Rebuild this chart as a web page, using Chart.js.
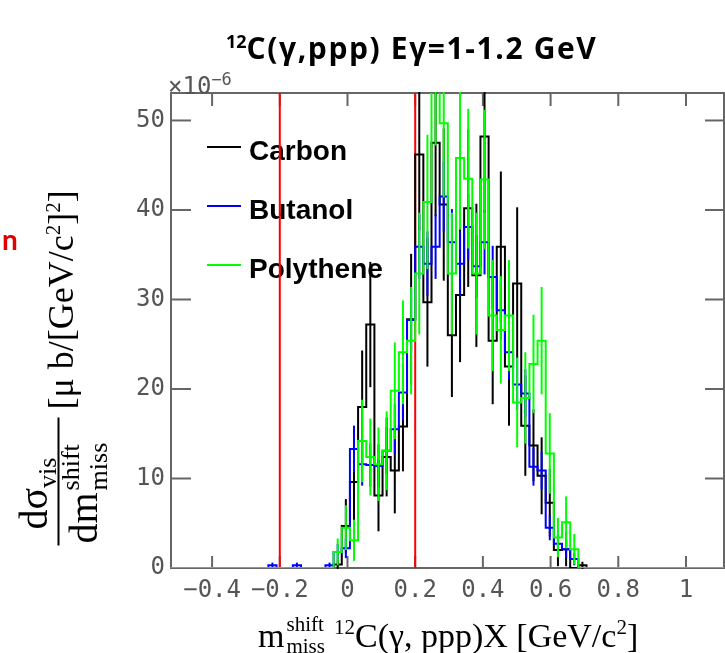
<!DOCTYPE html>
<html><head><meta charset="utf-8">
<script src="https://cdn.jsdelivr.net/npm/chart.js@4.4.1/dist/chart.umd.min.js"></script>
<style>
html,body{margin:0;padding:0;background:#fff;}
#wrap{position:relative;width:725px;height:653px;overflow:hidden;background:#fff;}
#c{position:absolute;left:0;top:0;}
.t{position:absolute;white-space:nowrap;line-height:1;}
#title{left:226px;top:27px;font:bold 30px "Open Sans",sans-serif;color:#000;letter-spacing:1.6px;}
#title sup{font-size:18px;vertical-align:0;position:relative;top:-11px;letter-spacing:0;}
#redn{left:2px;top:222px;font:bold 28px Lato,sans-serif;color:#e00000;}
#expo{left:168px;top:72px;font:24px "DejaVu Sans Mono",monospace;color:#555;}
#expo sup{font-size:17px;vertical-align:0;position:relative;top:-9px;}
#xtitle{left:258px;top:620px;font:34px "Liberation Serif",serif;color:#000;line-height:32px;}
.stack{display:inline-block;position:relative;width:41px;height:0;}
.stack span{position:absolute;left:2px;font-size:21px;line-height:20px;}
.stack .sp{top:-33px;}
.stack .sb{top:-11px;}
.sm{font-size:21px;position:relative;top:-13px;}
#ytitle{position:absolute;left:-117.5px;top:317.5px;width:360px;height:95px;transform:rotate(-90deg);font-family:"Liberation Serif",serif;color:#000;}
#ytitle .p{position:absolute;white-space:nowrap;line-height:40px;font-size:40px;}
#ytitle .sub{font-size:26px;position:relative;top:9px;}
#ytitle .u{font-size:36px;line-height:36px;}
#ytitle .bar{position:absolute;left:0;width:128px;top:42px;height:2px;background:#000;}
#ytitle .stack2{display:inline-block;position:relative;width:62px;height:0;}
#ytitle .stack2 span{position:absolute;left:2px;font-size:26px;line-height:24px;}
</style></head>
<body><div id="wrap">
<canvas id="c" width="725" height="653"></canvas>
<div class="t" id="title"><sup>12</sup>C(γ,ppp) Eγ=1-1.2 GeV</div>
<div class="t" id="redn">n</div>
<div class="t" id="expo">×10<sup>−6</sup></div>
<div class="t" id="xtitle">m<span class="stack"><span class="sp">shift</span><span class="sb">miss</span></span> <span class="sm">12</span>C(γ, ppp)X [GeV/c<span class="sm">2</span>]</div>
<div id="ytitle">
  <div class="p" style="left:16px;top:-2px;">dσ<span class="sub">vis</span></div>
  <div class="bar"></div>
  <div class="p" style="left:2px;top:48px;">dm<span class="stack2"><span style="top:-38px">shift</span><span style="top:-10px">miss</span></span></div>
  <div class="p u" style="left:136px;top:27px;">[μ b/[GeV/c<span class="sm">2</span>]<span class="sm">2</span>]</div>
</div>
</div>
<script>
// ---- data ----
const binWidth = 0.0241;          // histogram bin width (GeV/c^2)
const firstEdge = -0.2338;        // low edge of first listed bin
const carbon = [0,0,0,0,0,0,0,0,0.4,4.7,9.6,18.0,27.2,8.1,12.4,10.9,15.8,27.8,46.2,29.7,47.5,40.6,26.0,30.5,40.2,32.7,48.2,25.4,35.9,22.5,31.8,15.9,13.7,10.3,7.3,2.0,2.1,0,0.3];
const carbonErr = [0,0,0,0,0,0,0,0,0.5,3.0,4.3,6.3,7.0,4.0,4.4,4.8,5.0,7.3,8.5,7.2,8.2,8.5,6.9,7.5,8.8,8.0,8.5,7.1,8.4,6.6,8.5,5.6,4.0,4.3,3.8,1.8,1.9,0,0.4];
const butanol = [0.3,0,0,0.3,0,0,0,0.3,1.8,2.2,13.3,11.6,11.5,11.4,13.1,15.5,19.6,27.7,35.9,34.0,35.9,41.5,36.4,34.0,38.1,33.7,36.4,32.5,28.8,24.1,20.5,19.5,11.3,10.9,4.5,2.7,2.1,1.0,0];
const butanolErr = [0.3,0,0,0.3,0,0,0,0.3,0.9,1.1,2.6,2.4,2.4,2.4,2.6,2.8,3.1,3.4,3.6,3.6,3.6,3.9,3.7,3.6,3.7,3.5,3.6,3.5,3.3,3.0,2.8,2.7,2.1,2.1,1.4,1.1,1.0,0.7,0];
const polythene = [0,0,0,0,0,0,0,0,1.8,4.5,3.1,14.2,12.4,11.6,13.1,19.8,24.1,25.4,32.9,40.9,56.0,49.7,32.9,45.8,43.5,32.9,43.4,28.2,26.6,28.2,18.5,19.0,22.8,25.4,12.8,3.4,5.1,2.1,0];
const polytheneErr = [0,0,0,0,0,0,0,0,1.5,2.5,2.3,4.6,4.3,4.1,4.4,5.4,5.8,6.0,6.8,7.5,8.8,8.3,6.8,8.0,7.8,6.8,7.8,6.2,6.0,6.2,5.0,5.1,5.5,6.0,4.5,2.2,2.9,1.7,0];
const seriesNames = ['Carbon','Butanol','Polythene'];
const cutLines = [-0.2, 0.2];
const xTickValues = [-0.4,-0.2,0,0.2,0.4,0.6,0.8,1];
const xTickLabels = ['−0.4','−0.2','0','0.2','0.4','0.6','0.8','1'];
const yTickValues = [0,10,20,30,40,50];
const yTickLabels = ['0','10','20','30','40','50'];
const X_MIN = -0.5214, X_MAX = 1.1123, Y_MAX = 53.07;

// ---- build ----
function stepPoints(vals){
  const pts=[{x:X_MIN,y:0}];
  vals.forEach((v,i)=>pts.push({x:firstEdge+i*binWidth,y:v}));
  pts.push({x:firstEdge+vals.length*binWidth,y:0});
  pts.push({x:X_MAX,y:0});
  return pts;
}
const colors=['#000000','#0000ff','#00ff00'];
const vals=[carbon,butanol,polythene], errs=[carbonErr,butanolErr,polytheneErr];
const datasets = vals.map((v,i)=>({label:seriesNames[i],data:stepPoints(v),stepped:true,borderColor:colors[i],borderWidth:2,pointRadius:0,fill:false,order:3-i,vals:v,errs:errs[i]}));

function line(ctx,x1,y1,x2,y2){ctx.beginPath();ctx.moveTo(x1,y1);ctx.lineTo(x2,y2);ctx.stroke();}

const rootStyle = {
  id:'rootStyle',
  beforeDatasetsDraw(chart){
    const {ctx,chartArea:a,scales:{x,y}}=chart;
    ctx.save();
    // legend
    const ly=[147,206,265], lb=[160,219,278];
    ctx.lineWidth=2;
    seriesNames.forEach((n,i)=>{
      ctx.strokeStyle=colors[i]; line(ctx,a.left+36,ly[i],a.left+70,ly[i]);
      ctx.fillStyle='#000'; ctx.font='bold 28px "Liberation Sans", Arial, sans-serif';
      ctx.textBaseline='alphabetic'; ctx.textAlign='left';
      ctx.fillText(n,a.left+78,lb[i]);
    });
    // frame
    ctx.strokeStyle='#666'; ctx.lineWidth=2;
    ctx.strokeRect(a.left,a.top,a.right-a.left,a.bottom-a.top);
    xTickValues.forEach(v=>{const px=x.getPixelForValue(v); line(ctx,px,a.bottom,px,a.bottom-12); line(ctx,px,a.top,px,a.top+13);});
    yTickValues.forEach(v=>{const py=y.getPixelForValue(v); line(ctx,a.left,py,a.left+20,py); line(ctx,a.right,py,a.right-19,py);});
    // cut lines
    ctx.beginPath(); ctx.rect(a.left,a.top,a.right-a.left,a.bottom-a.top); ctx.clip();
    ctx.strokeStyle='#ff0000'; ctx.lineWidth=2;
    cutLines.forEach(v=>{const px=x.getPixelForValue(v); line(ctx,px,a.top,px,a.bottom);});
    ctx.restore();
  },
  afterDatasetDraw(chart,args){
    const {ctx,chartArea:a,scales:{x,y}}=chart;
    const ds=chart.data.datasets[args.index];
    ctx.save();
    ctx.beginPath(); ctx.rect(a.left,a.top-1,a.right-a.left,a.bottom-a.top+2); ctx.clip();
    ctx.strokeStyle=ds.borderColor; ctx.lineWidth=2;
    ds.vals.forEach((v,j)=>{
      const e=ds.errs[j]; if(!e) return;
      const px=x.getPixelForValue(firstEdge+(j+0.5)*binWidth);
      line(ctx,px,y.getPixelForValue(v-e),px,y.getPixelForValue(v+e));
    });
    ctx.restore();
  }
};

new Chart(document.getElementById('c'),{
  type:'line',
  data:{datasets},
  options:{
    responsive:false,animation:false,devicePixelRatio:1,events:[],
    layout:{padding:{left:0,top:93,right:1,bottom:0}},
    plugins:{legend:{display:false},tooltip:{enabled:false},title:{display:false}},
    scales:{
      x:{type:'linear',min:X_MIN,max:X_MAX,
        afterBuildTicks:s=>{s.ticks=xTickValues.map(v=>({value:v}));},
        afterFit:s=>{s.height=85;},
        grid:{display:false,drawTicks:false},border:{display:false},
        ticks:{autoSkip:false,maxRotation:0,padding:8,color:'#555',font:{family:'"DejaVu Sans Mono", monospace',size:24},
          callback:(v)=>{const i=xTickValues.findIndex(t=>Math.abs(t-v)<1e-9);return i>=0?xTickLabels[i]:'';}}},
      y:{type:'linear',min:0,max:Y_MAX,
        afterBuildTicks:s=>{s.ticks=yTickValues.map(v=>({value:v}));},
        afterFit:s=>{s.width=171;},
        grid:{display:false,drawTicks:false},border:{display:false},
        ticks:{padding:6,color:'#555',font:{family:'"DejaVu Sans Mono", monospace',size:24},
          callback:(v)=>{const i=yTickValues.indexOf(v);return i>=0?yTickLabels[i]:'';}}}
    }
  },
  plugins:[rootStyle]
});
</script>
</body></html>
